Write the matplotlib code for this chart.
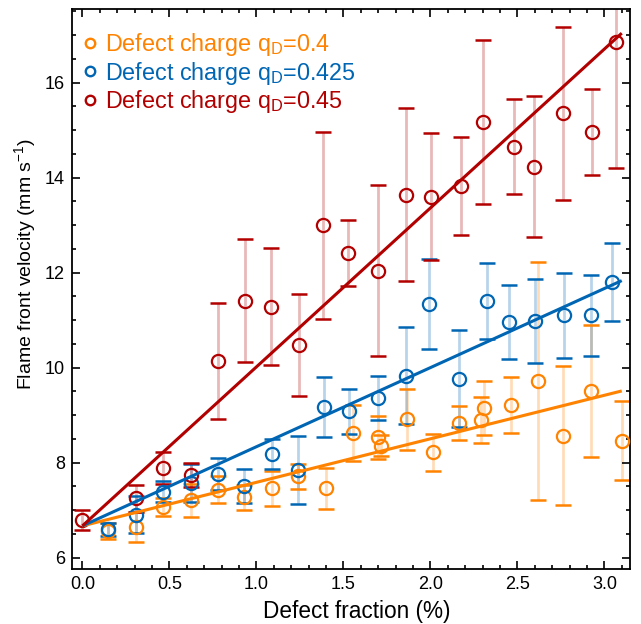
import matplotlib
matplotlib.use("Agg")
import matplotlib.pyplot as plt
import numpy as np
from matplotlib.ticker import MultipleLocator
from matplotlib.lines import Line2D

plt.rcParams['font.family'] = ['Liberation Sans', 'DejaVu Sans']
plt.rcParams['mathtext.fontset'] = 'custom'
plt.rcParams['mathtext.rm'] = 'Liberation Sans'
plt.rcParams['mathtext.it'] = 'Liberation Sans'

# Defect charge q_D = 0.4
x_04 = [0.149, 0.309, 0.466, 0.623, 0.780, 0.931, 1.088, 1.241, 1.399, 1.558,
        1.700, 1.715, 1.864, 2.013, 2.165, 2.291, 2.309, 2.464, 2.621, 2.764,
        2.922, 3.100]
v_04 = [6.57, 6.65, 7.07, 7.21, 7.43, 7.27, 7.46, 7.71, 7.46, 8.63,
        8.53, 8.36, 8.91, 8.22, 8.83, 8.90, 9.15, 9.21, 9.72, 8.57,
        9.51, 8.46]
e_04 = [0.17, 0.31, 0.19, 0.35, 0.28, 0.27, 0.37, 0.27, 0.43, 0.59,
        0.45, 0.22, 0.65, 0.39, 0.36, 0.49, 0.57, 0.59, 2.51, 1.46,
        1.39, 0.83]

# Defect charge q_D = 0.425
x_0425 = [0.149, 0.309, 0.466, 0.623, 0.780, 0.931, 1.092, 1.241, 1.391, 1.533,
          1.701, 1.860, 1.994, 2.165, 2.326, 2.454, 2.602, 2.768, 2.922, 3.046]
v_0425 = [6.60, 6.90, 7.39, 7.57, 7.76, 7.51, 8.18, 7.85, 9.18, 9.08,
          9.36, 9.83, 11.34, 9.77, 11.41, 10.96, 10.98, 11.10, 11.10, 11.81]
e_0425 = [0.14, 0.39, 0.22, 0.40, 0.33, 0.35, 0.31, 0.72, 0.63, 0.47,
          0.47, 1.02, 0.95, 1.02, 0.80, 0.77, 0.88, 0.90, 0.86, 0.82]

# Defect charge q_D = 0.45
x_045 = [0.000, 0.309, 0.466, 0.623, 0.780, 0.935, 1.083, 1.245, 1.385, 1.525,
         1.701, 1.860, 2.002, 2.176, 2.305, 2.481, 2.596, 2.764, 2.928, 3.067]
v_045 = [6.79, 7.25, 7.89, 7.74, 10.14, 11.41, 11.28, 10.48, 13.00, 12.41,
         12.04, 13.64, 13.60, 13.83, 15.17, 14.65, 14.23, 15.35, 14.96, 16.86]
e_045 = [0.21, 0.28, 0.33, 0.25, 1.23, 1.30, 1.23, 1.07, 1.97, 0.69,
         1.80, 1.82, 1.33, 1.03, 1.73, 1.00, 1.49, 1.82, 0.90, 2.66]

# Linear fits: common intercept, per-series slope
fit_x = [0.0, 3.1]
fit_intercept = 6.67
fit_slopes = {'0.4': 0.916, '0.425': 1.665, '0.45': 3.345}

keys = ['0.4', '0.425', '0.45']
colors = {'0.4': '#FF8300', '0.425': '#0066B4', '0.45': '#B20000'}
labels = {k: 'Defect charge q$_{\\mathregular{D}}$=' + k for k in keys}

series = [('0.4', x_04, v_04, e_04),
          ('0.425', x_0425, v_0425, e_0425),
          ('0.45', x_045, v_045, e_045)]

fig = plt.figure(figsize=(6.41, 6.24), dpi=100)
ax = fig.add_axes([0.112, 0.0877, 0.871, 0.898])

for i, (key, xs, vs, es) in enumerate(series):
    c = colors[key]
    xs = np.asarray(xs); vs = np.asarray(vs); es = np.asarray(es)
    # light vertical stems
    ax.vlines(xs, vs - es, vs + es, colors=c, alpha=0.28, linewidth=2.0,
              zorder=1 + i * 0.1)
    # solid caps
    ax.errorbar(xs, vs, yerr=es, fmt='none', ecolor=c, elinewidth=0,
                capsize=6.0, capthick=1.8, zorder=2 + i * 0.1)
    ax.plot(xs, vs, linestyle='none', marker='o', markersize=9.5,
            markerfacecolor='none', markeredgecolor=c, markeredgewidth=1.6,
            zorder=3 + i * 0.1)

for key in keys:
    fy = [fit_intercept + fit_slopes[key] * xv for xv in fit_x]
    ax.plot(fit_x, fy, color=colors[key], linewidth=2.2, zorder=5,
            solid_capstyle='butt')

ax.set_xlim(-0.061, 3.148)
ax.set_ylim(5.756, 17.55)
ax.xaxis.set_major_locator(MultipleLocator(0.5))
ax.xaxis.set_minor_locator(MultipleLocator(0.1))
ax.yaxis.set_major_locator(MultipleLocator(2))
ax.yaxis.set_minor_locator(MultipleLocator(0.5))
ax.xaxis.set_major_formatter(plt.FuncFormatter(lambda v, p: f'{v:.1f}'))
ax.tick_params(which='both', direction='in', top=True, right=True,
               labelsize=13, width=1.2)
ax.tick_params(which='major', length=6, pad=5)
ax.tick_params(which='minor', length=3)
for s in ax.spines.values():
    s.set_linewidth(1.3)

ax.set_xlabel('Defect fraction (%)', fontsize=16.3, labelpad=3)
ax.xaxis.set_label_coords(0.51, -0.055)
ax.set_ylabel('Flame front velocity (mm s$^{\\mathregular{-1}}$)', fontsize=14)
ax.yaxis.set_label_coords(-0.061, 0.545)

handles = [Line2D([], [], linestyle='none', marker='o', markersize=6.8,
                  markerfacecolor='none', markeredgecolor=colors[k],
                  markeredgewidth=1.7) for k in keys]
leg = ax.legend(handles, [labels[k] for k in keys],
                loc='upper left', frameon=False, fontsize=16.8,
                handlelength=0.6, handletextpad=0.35, labelspacing=0.05,
                borderaxespad=0.0, borderpad=0.0,
                bbox_to_anchor=(0.02, 0.96))
for t, k in zip(leg.get_texts(), keys):
    t.set_color(colors[k])

fig.savefig('out.png', dpi=100)
